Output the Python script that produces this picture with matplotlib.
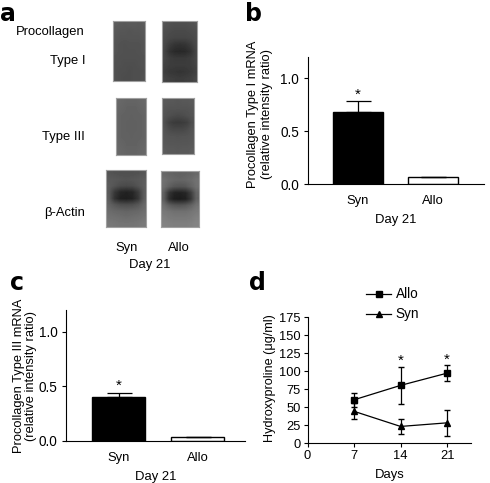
import numpy as np
import matplotlib
matplotlib.use("Agg")
import matplotlib.pyplot as plt
from matplotlib.lines import Line2D

plt.rcParams['font.family'] = ['Liberation Sans', 'DejaVu Sans']
plt.rcParams['font.size'] = 9.4

W, H = 490, 483

# bar panels
bar_labels = ['Syn', 'Allo']
b_values = [0.68, 0.065]
b_errors = [0.10, 0.005]
c_values = [0.40, 0.035]
c_errors = [0.04, 0.005]

# time course
days = [7, 14, 21]
allo = [60, 80, 97]
allo_err = [10, 26, 11]
syn = [44, 23, 28]
syn_err = [11, 11, 18]
d_ticks_x = [0, 7, 14, 21]
d_ticks_y = [0, 25, 50, 75, 100, 125, 150, 175]

# blot grey levels, rows top to bottom
blot_syn_1 = [[92, 90, 88, 90, 90, 88, 92],
              [88, 86, 86, 84, 86, 86, 88],
              [86, 84, 84, 84, 84, 84, 86],
              [84, 82, 80, 82, 82, 82, 84],
              [84, 82, 80, 80, 80, 82, 84],
              [82, 80, 80, 80, 80, 80, 82],
              [80, 80, 78, 78, 78, 80, 82],
              [80, 78, 78, 76, 78, 78, 80],
              [80, 78, 76, 76, 78, 78, 82]]
blot_allo_1 = [[84, 80, 78, 78, 78, 80, 84],
               [78, 76, 74, 74, 74, 76, 78],
               [76, 72, 70, 70, 70, 72, 76],
               [72, 60, 52, 50, 52, 60, 72],
               [68, 50, 42, 40, 42, 50, 68],
               [70, 62, 58, 58, 58, 62, 70],
               [66, 62, 60, 60, 60, 62, 68],
               [62, 56, 54, 52, 54, 58, 64],
               [68, 64, 62, 60, 62, 64, 70]]
blot_syn_3 = [[104, 102, 100, 100, 100, 102, 104],
              [102, 100, 98, 98, 98, 100, 102],
              [100, 98, 98, 96, 98, 98, 100],
              [100, 98, 96, 96, 96, 98, 100],
              [100, 98, 96, 96, 96, 98, 100],
              [100, 98, 98, 96, 98, 98, 100],
              [102, 100, 98, 98, 98, 100, 102],
              [104, 102, 100, 100, 100, 102, 104]]
blot_allo_3 = [[90, 88, 88, 86, 88, 88, 90],
               [86, 84, 84, 84, 84, 84, 86],
               [84, 80, 76, 74, 76, 80, 84],
               [80, 66, 60, 58, 60, 64, 78],
               [84, 76, 72, 72, 72, 76, 84],
               [86, 84, 84, 82, 84, 84, 86],
               [88, 86, 86, 86, 86, 86, 88],
               [92, 90, 90, 88, 90, 90, 92]]
blot_syn_a = [[84, 82, 80, 80, 80, 82, 86],
              [90, 88, 86, 84, 86, 88, 92],
              [92, 84, 76, 74, 76, 84, 94],
              [90, 56, 38, 34, 38, 58, 92],
              [92, 50, 32, 30, 34, 54, 94],
              [100, 88, 80, 78, 80, 88, 104],
              [108, 104, 102, 100, 102, 104, 110],
              [114, 112, 110, 108, 110, 112, 116],
              [120, 118, 116, 116, 116, 118, 122]]
blot_allo_a = [[104, 100, 98, 96, 98, 100, 106],
               [112, 106, 102, 100, 102, 106, 114],
               [110, 96, 86, 84, 86, 98, 112],
               [96, 52, 36, 34, 38, 60, 100],
               [94, 46, 30, 28, 32, 54, 98],
               [110, 94, 86, 84, 88, 98, 114],
               [120, 116, 112, 112, 112, 116, 122],
               [126, 122, 120, 120, 120, 122, 128],
               [130, 128, 126, 126, 126, 128, 132]]


def pxAxes(x0, y0, x1, y1):
    # axes from pixel box, y counted from the top of the image
    return fig.add_axes([x0 / W, 1 - y1 / H, (x1 - x0) / W, (y1 - y0) / H])


def blot(grey, x0, y0, x1, y1):
    ax = pxAxes(x0, y0, x1, y1)
    ax.imshow(grey, cmap='gray', vmin=0, vmax=255, aspect='auto', interpolation='bilinear')
    ax.set_xticks([])
    ax.set_yticks([])
    for s in ax.spines.values():
        s.set_color('#a0a0a0')
        s.set_linewidth(0.8)


def label(x, y, s, **kw):
    fig.text(x / W, 1 - y / H, s, va='center', **kw)


def letter(x, y, s):
    fig.text(x / W, 1 - y / H, s, va='center', fontsize=17, fontweight='bold', family='DejaVu Sans')


def barPanel(box, values, errors, xlim, ylab, lab_x, lab_y, spacing):
    ax = pxAxes(*box)
    ax.bar([0, 1], values, width=0.667, color=['black', 'white'], edgecolor='black', linewidth=1,
           yerr=[[0, 0], errors], error_kw=dict(ecolor='black', elinewidth=0.9, capsize=9, capthick=0.9))
    ax.set_xlim(xlim)
    ax.set_ylim(0, 1.2)
    ax.set_yticks([0, 0.5, 1.0], ['0.0', '0.5', '1.0'], fontsize=9.8)
    ax.set_xticks([0, 1], bar_labels)
    ax.tick_params(axis='x', length=0, pad=8)
    ax.tick_params(axis='y', length=3, width=0.8, pad=3)
    ax.spines[['top', 'right']].set_visible(False)
    ax.set_ylabel(ylab, fontsize=9.3, linespacing=spacing, va='center')
    ax.yaxis.set_label_coords((lab_x - box[0]) / (box[2] - box[0]), (box[3] - lab_y) / (box[3] - box[1]))
    ax.set_xlabel('Day 21', labelpad=5)
    ax.text(0, values[0] + errors[0] + 0.0, '*', ha='center', va='bottom', fontsize=11)
    return ax


fig = plt.figure(figsize=(W / 100, H / 100), dpi=100)

# panel a
blot(blot_syn_1, 113, 21, 145, 81)
blot(blot_allo_1, 162, 21, 197, 82)
blot(blot_syn_3, 116, 98, 146, 155)
blot(blot_allo_3, 162, 98, 194, 154)
blot(blot_syn_a, 106, 170, 146, 227)
blot(blot_allo_a, 161, 171, 199, 227)
label(85, 32, 'Procollagen', ha='right')
label(85, 61, 'Type I', ha='right')
label(85, 137, 'Type III', ha='right')
label(85, 213, '\u03b2-Actin', ha='right')
label(127, 248, 'Syn', ha='center')
label(179, 248, 'Allo', ha='center')
label(150, 265, 'Day 21', ha='center')

# panel letters
letter(0, 14, 'a')
letter(245, 14, 'b')
letter(10, 283, 'c')
letter(249, 283, 'd')

barPanel((307.5, 57, 484, 184), b_values, b_errors, (-0.673, 1.68),
         'Procollagen Type I mRNA\n(relative intensity ratio)', 260, 114, 1.2)
barPanel((66, 310, 245, 441), c_values, c_errors, (-0.665, 1.6),
         'Procollagen Type III mRNA\n(relative intensity ratio)', 25, 376, 1.05)

# panel d
ax = pxAxes(307.5, 317, 471, 443)
ax.errorbar(days, allo, yerr=allo_err, color='black', marker='s', ms=4.5, lw=0.9, elinewidth=0.9, capsize=2.5)
ax.errorbar(days, syn, yerr=syn_err, color='black', marker='^', ms=4.5, lw=0.9, elinewidth=0.9, capsize=2.5)
ax.set_xlim(0, 24.6)
ax.set_ylim(0, 175)
ax.set_xticks(d_ticks_x)
ax.set_yticks(d_ticks_y)
ax.tick_params(labelsize=9.3, length=3, width=0.8, pad=2)
ax.spines[['top', 'right']].set_visible(False)
ax.set_xlabel('Days', fontsize=9.4, labelpad=5)
ax.set_ylabel('Hydroxyproline (\u03bcg/ml)', fontsize=9.1, va='center')
ax.yaxis.set_label_coords((270 - 307.5) / 163.5, (443 - 378.5) / 126)
for d, v, e in zip(days[1:], allo[1:], allo_err[1:]):
    ax.text(d, v + e - 2, '*', ha='center', va='bottom', fontsize=11, clip_on=False)
handles = [Line2D([], [], color='black', marker='s', ms=4.5, lw=0.9),
           Line2D([], [], color='black', marker='^', ms=4.5, lw=0.9)]
ax.legend(handles, ['Allo', 'Syn'], loc='lower left', bbox_to_anchor=(0.36, 0.965), frameon=False,
          handlelength=1.8, handletextpad=0.35, labelspacing=0.45, borderpad=0, borderaxespad=0, fontsize=9.8)

fig.savefig('out.png', dpi=100)
